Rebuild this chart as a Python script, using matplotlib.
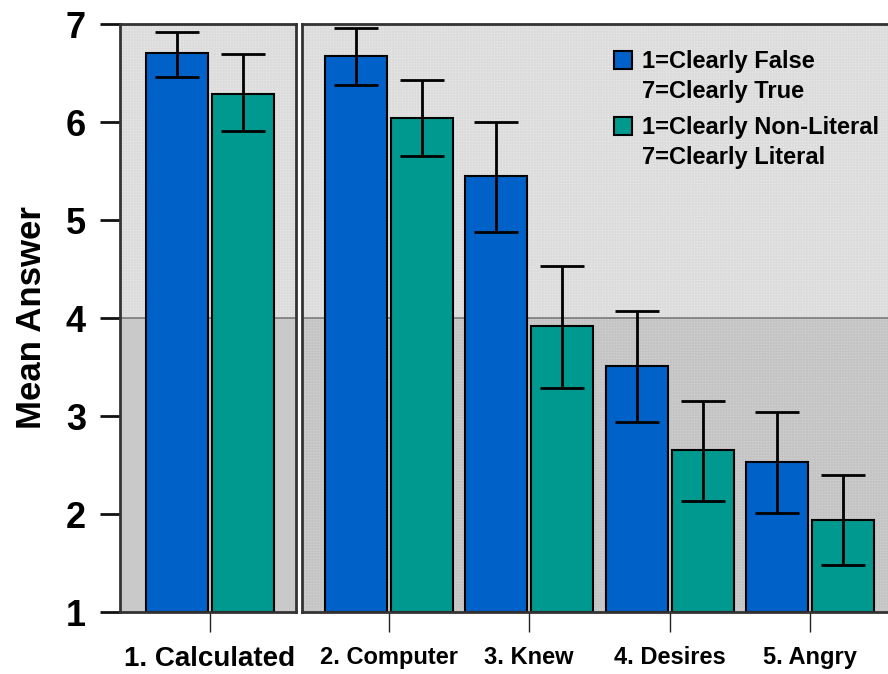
import matplotlib
matplotlib.use("Agg")
import matplotlib.pyplot as plt
from matplotlib.patches import Rectangle
import numpy as np

# Mean ratings with 95% interval bounds
categories = ["1. Calculated", "2. Computer", "3. Knew", "4. Desires", "5. Angry"]
truth_mean = [6.70, 6.67, 5.45, 3.51, 2.53]
truth_low = [6.46, 6.38, 4.88, 2.94, 2.01]
truth_high = [6.92, 6.96, 6.00, 4.07, 3.04]
literal_mean = [6.29, 6.04, 3.92, 2.65, 1.94]
literal_low = [5.91, 5.65, 3.29, 2.13, 1.48]
literal_high = [6.69, 6.43, 4.53, 3.15, 2.40]
legend_labels = ["1=Clearly False\n7=Clearly True",
                 "1=Clearly Non-Literal\n7=Clearly Literal"]
y_ticks = [1, 2, 3, 4, 5, 6, 7]

BLUE = "#0062C9"
TEAL = "#009990"
FONT = ["Liberation Sans", "DejaVu Sans"]
plt.rcParams["font.family"] = FONT
plt.rcParams["font.weight"] = "bold"

W, H = 888, 674
fig = plt.figure(figsize=(W / 100, H / 100), dpi=100)


def px_axes(x0, x1, y0, y1):
    return fig.add_axes([x0 / W, 1 - y1 / H, (x1 - x0) / W, (y1 - y0) / H])


ax_l = px_axes(120, 296, 24, 612)
ax_r = px_axes(302, 893, 24, 612)

bw = 62 / 66
spacing = 2.125
err_kw = dict(ecolor="black", elinewidth=2, capsize=15.5, capthick=2)


def draw_panel(ax, idx, centers, lower_color, lower_hatch):
    ax.set_ylim(1, 7)
    ax.axhspan(4, 7, facecolor="#e7e7e7", edgecolor="#dcdcdc", hatch="++++++",
               linewidth=0, zorder=0)
    ax.axhspan(1, 4, facecolor=lower_color, edgecolor="#c4c4c4",
               hatch=lower_hatch, linewidth=0, zorder=0)
    ax.axhline(4, color="#7a7a7a", lw=1.2, zorder=1)
    tm = [truth_mean[i] for i in idx]
    lm = [literal_mean[i] for i in idx]
    t_err = [[truth_mean[i] - truth_low[i] for i in idx],
             [truth_high[i] - truth_mean[i] for i in idx]]
    l_err = [[literal_mean[i] - literal_low[i] for i in idx],
             [literal_high[i] - literal_mean[i] for i in idx]]
    c = np.asarray(centers, dtype=float)
    ax.bar(c - 0.5, np.array(tm) - 1, bw, bottom=1, color=BLUE,
           edgecolor="black", linewidth=1.5, zorder=2)
    ax.bar(c + 0.5, np.array(lm) - 1, bw, bottom=1, color=TEAL,
           edgecolor="black", linewidth=1.5, zorder=2)
    ax.errorbar(c - 0.5, tm, yerr=t_err, fmt="none", zorder=3, **err_kw)
    ax.errorbar(c + 0.5, lm, yerr=l_err, fmt="none", zorder=3, **err_kw)
    for s in ax.spines.values():
        s.set_color("#333333")
        s.set_linewidth(2)
    ax.set_xticks(c)
    ax.tick_params(axis="x", direction="out", length=14.5, width=1,
                   color="#222222", pad=10)


draw_panel(ax_l, [0], [0.0], "#c9c9c9", None)
ax_l.set_xlim(-90 / 66, 86 / 66)
ax_l.set_xticklabels([categories[0]], fontsize=20, fontweight="bold")

right_centers = [spacing * k for k in range(4)]
draw_panel(ax_r, [1, 2, 3, 4], right_centers, "#d1d1d1", "++++++")
ax_r.set_xlim(-87 / 66, (893 - 389) / 66)
ax_r.set_xticklabels(categories[1:], fontsize=17, fontweight="bold")
ax_r.spines["right"].set_visible(False)
ax_r.set_yticks([])

ax_l.set_yticks(y_ticks)
ax_l.set_yticklabels([str(v) for v in y_ticks], fontsize=26, fontweight="bold")
ax_l.tick_params(axis="y", direction="out", length=14.5, width=2,
                 color="#111111", pad=10)
ax_l.set_ylabel("Mean Answer", fontsize=25, fontweight="bold", labelpad=13)

# Legend keys and labels
for (ytxt, color, label) in [(60, BLUE, legend_labels[0]),
                             (126, TEAL, legend_labels[1])]:
    fig.patches.append(Rectangle((614 / W, 1 - (ytxt + 9) / H), 18 / W, 18 / H,
                                 transform=fig.transFigure, facecolor=color,
                                 edgecolor="black", linewidth=1.5))
    fig.text(642 / W, 1 - (ytxt - 10) / H, label, fontsize=17,
             fontweight="bold", va="top", ha="left", linespacing=1.4)

fig.savefig("out.png", dpi=100)
